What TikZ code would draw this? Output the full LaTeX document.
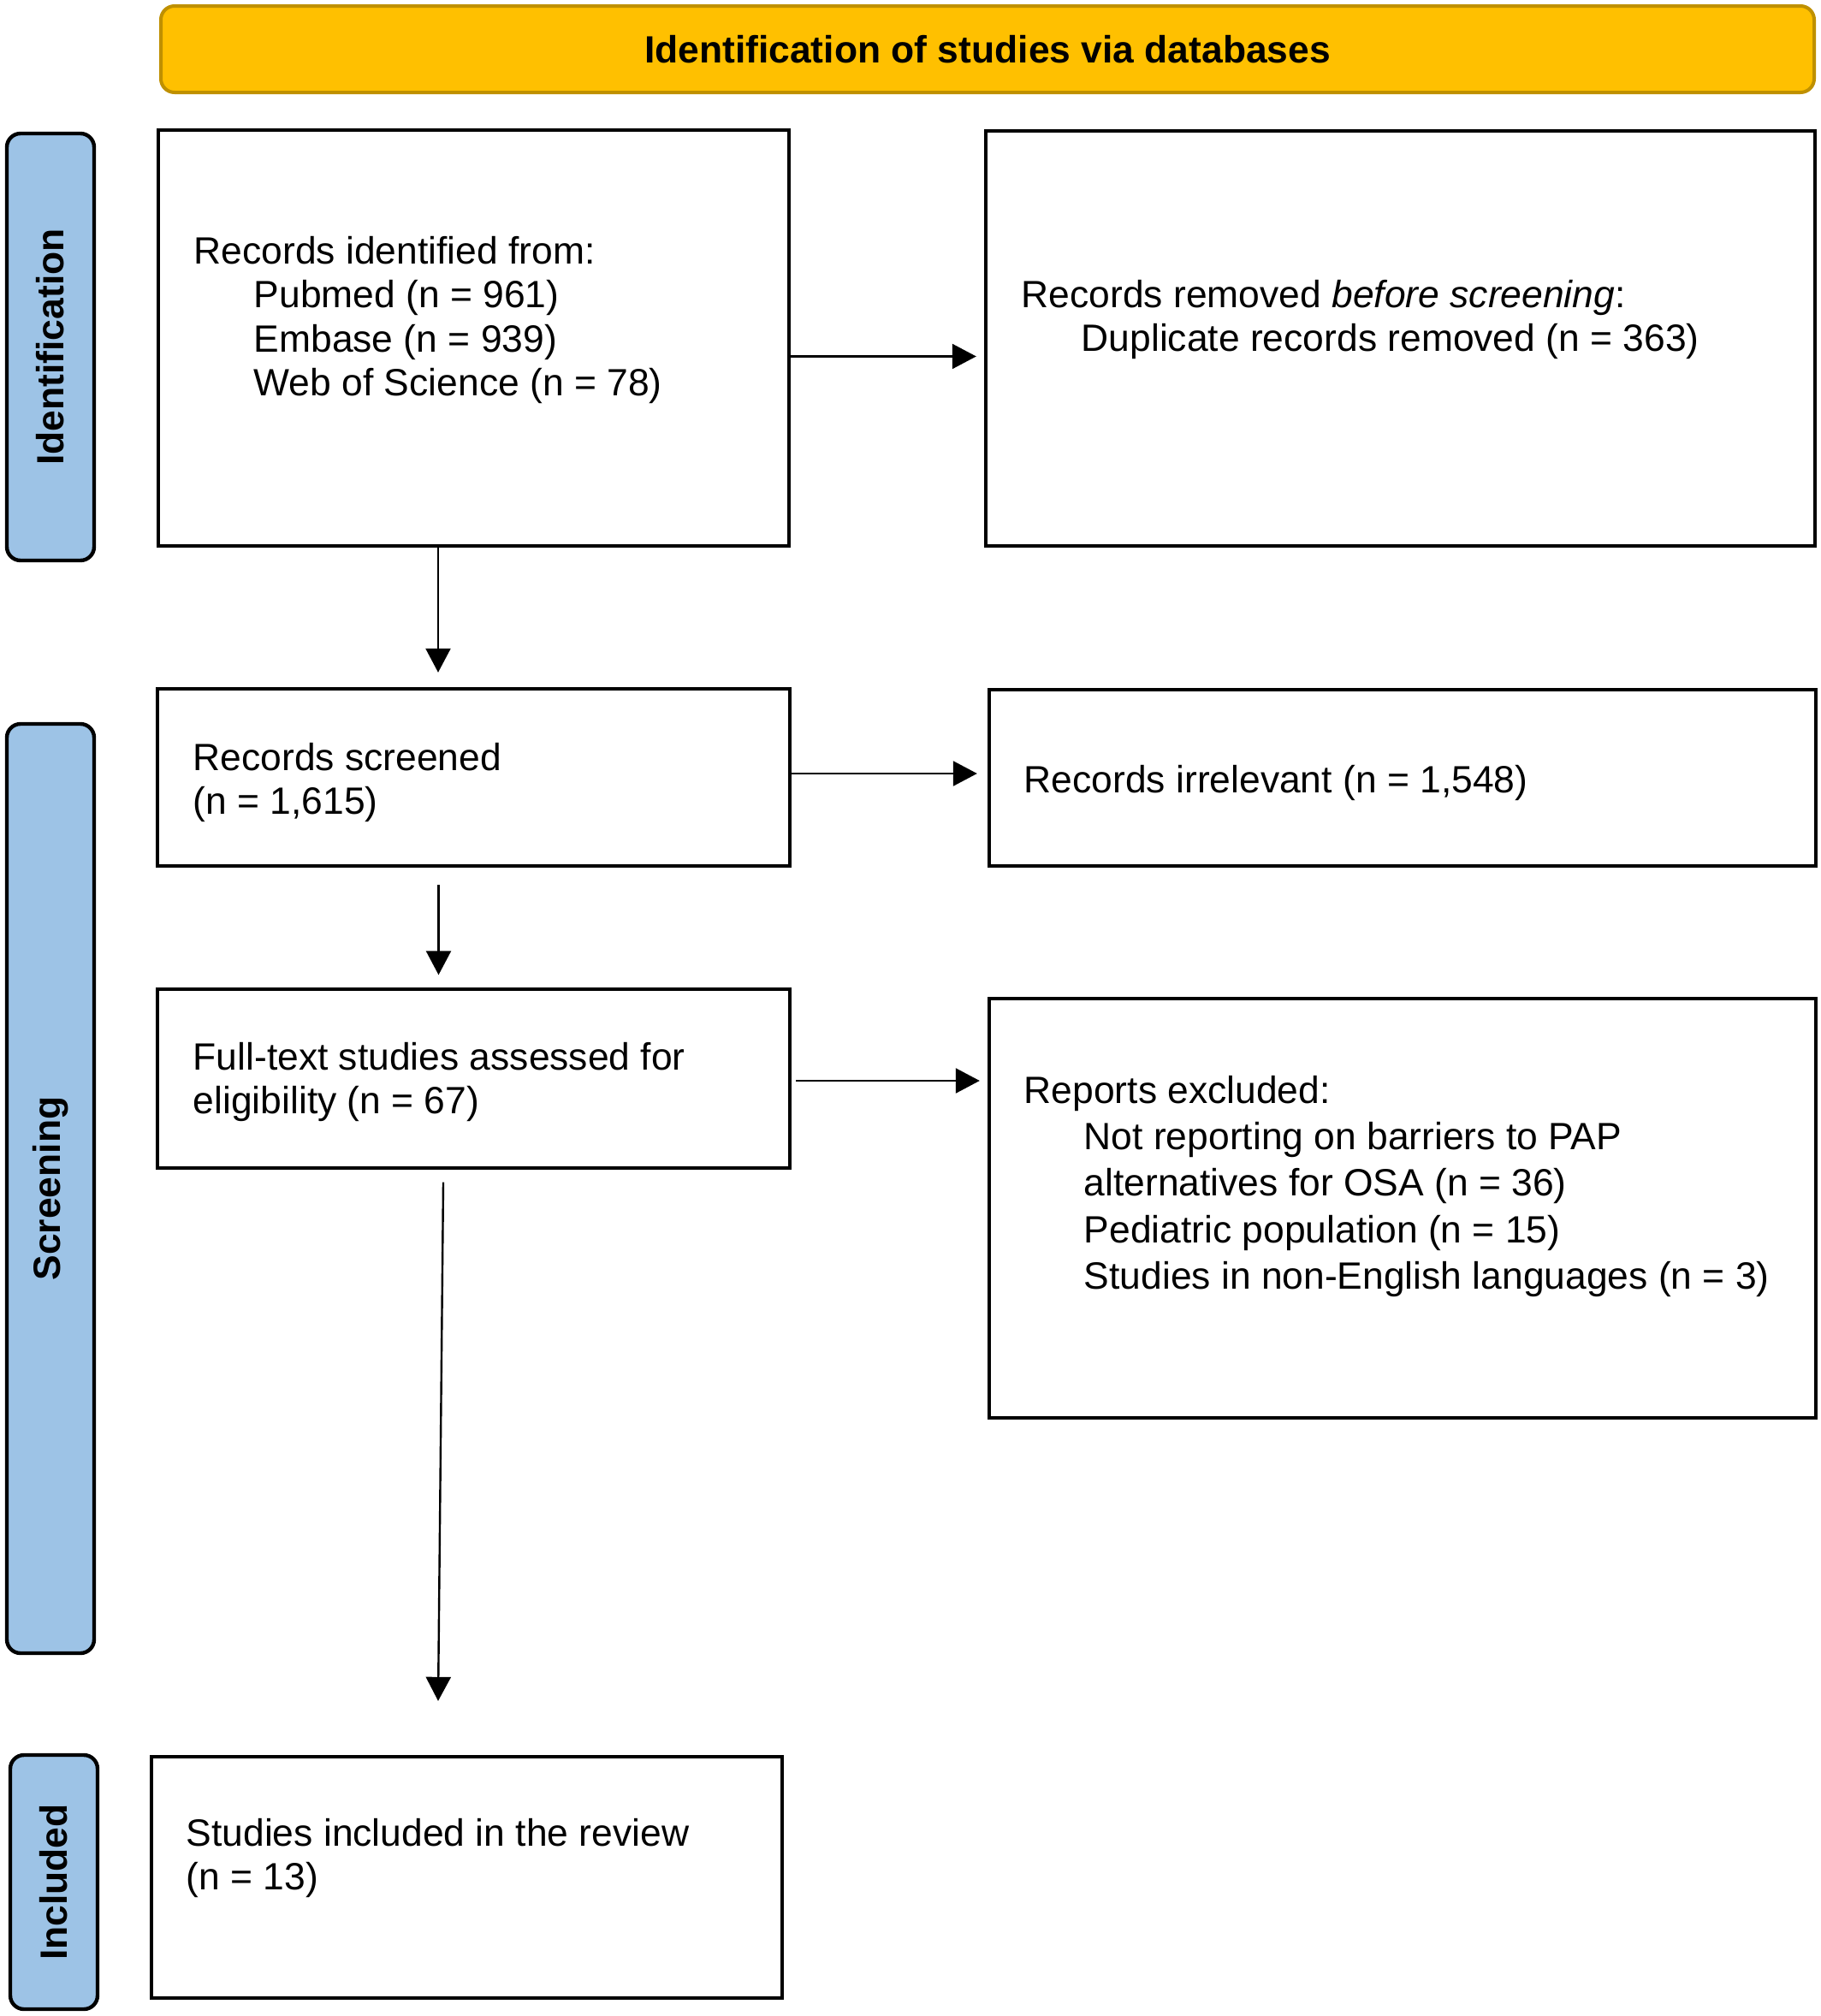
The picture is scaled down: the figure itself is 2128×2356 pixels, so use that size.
\documentclass[tikz,border=0pt]{standalone}
\usepackage{fontspec}
\setmainfont{Liberation Sans}
\usetikzlibrary{arrows.meta,calc}
\definecolor{bannerfill}{HTML}{FFC000}
\definecolor{bannerline}{HTML}{BF9000}
\definecolor{phasefill}{HTML}{9DC3E6}
\newcommand\ind{\hspace*{17.5pt}}
\begin{document}
\begin{tikzpicture}[x=0.25pt,y=-0.25pt,
  box/.style={draw=black,line width=1.1pt,fill=white,inner sep=0pt},
  phase/.style={draw=black,line width=1.1pt,fill=phasefill,rounded corners=4pt,inner sep=0pt,
    rotate=90,font=\fontsize{11.1}{12.9}\selectfont\bfseries},
  banner/.style={draw=bannerline,line width=1pt,fill=bannerfill,rounded corners=4pt,inner sep=0pt,
    font=\fontsize{11.1}{12.9}\selectfont\bfseries},
  txt/.style={anchor=base west,inner sep=0pt,font=\fontsize{11.1}{12.9}\selectfont},
  arr/.style={line width=0.6pt,-{Triangle[length=7pt,width=7.25pt]}},
]
\useasboundingbox (0,0) rectangle (2128,2356);

% banner
\node[banner, minimum width=1932*0.25pt, minimum height=101*0.25pt] (title) at (1154,57.5)
  {Identification of studies via databases};

% phase labels
\node[phase, minimum width=499*0.25pt, minimum height=102*0.25pt] (lab1) at (59,405.5) {Identification};
\node[phase, minimum width=1086*0.25pt, minimum height=102*0.25pt] (lab2) at (59,1389) {Screening};
\node[phase, minimum width=297*0.25pt, minimum height=102*0.25pt] (lab3) at (63,2199.5) {Included};

% boxes
\node[box, minimum width=737*0.25pt, minimum height=486*0.25pt] (b1) at (553.5,395) {};
\node[box, minimum width=969*0.25pt, minimum height=485*0.25pt] (b2) at (1636.5,395.5) {};
\node[box, minimum width=739*0.25pt, minimum height=207*0.25pt] (b3) at (553.5,908.5) {};
\node[box, minimum width=966*0.25pt, minimum height=206*0.25pt] (b4) at (1639,909) {};
\node[box, minimum width=739*0.25pt, minimum height=209*0.25pt] (b5) at (553.5,1260.5) {};
\node[box, minimum width=966*0.25pt, minimum height=490*0.25pt] (b6) at (1639,1412) {};
\node[box, minimum width=737*0.25pt, minimum height=282*0.25pt] (b7) at (545.5,2194) {};

% texts
\node[txt] (t1) at (226,308) {\begin{tabular}[t]{@{}l@{}}
  Records identified from:\\
  \ind Pubmed (n = 961)\\
  \ind Embase (n = 939)\\
  \ind Web of Science (n = 78)\end{tabular}};
\node[txt] (t2) at (1193,359) {\begin{tabular}[t]{@{}l@{}}
  Records removed \textit{before screening}:\\
  \ind Duplicate records removed (n = 363)\end{tabular}};
\node[txt] (t3) at (225,900) {\begin{tabular}[t]{@{}l@{}}
  Records screened\\
  (n = 1,615)\end{tabular}};
\node[txt] (t4) at (1196,926) {Records irrelevant (n = 1,548)};
\node[txt] (t5) at (225,1250) {\begin{tabular}[t]{@{}l@{}}
  Full-text studies assessed for\\
  eligibility (n = 67)\end{tabular}};
\node[txt] (t6) at (1196,1289) {\renewcommand\arraystretch{1.055}\begin{tabular}[t]{@{}l@{}}
  Reports excluded:\\
  \ind Not reporting on barriers to PAP\\
  \ind alternatives for OSA (n = 36)\\
  \ind Pediatric population (n = 15)\\
  \ind Studies in non-English languages (n = 3)\end{tabular}};
\node[txt] (t7) at (217,2157) {\begin{tabular}[t]{@{}l@{}}
  Studies included in the review\\
  (n = 13)\end{tabular}};

% arrows
\draw[arr] ($(b1.east)+(0,21.5)$) -- ($(b2.west)+(-9,21)$);
\draw[arr] ($(b1.south)+(-41.5,0)$) -- ($(b3.north)+(-41.5,-17)$);
\draw[arr] ($(b3.east)+(0,-4.5)$) -- ($(b4.west)+(-12,-5)$);
\draw[arr] ($(b3.south)+(-41,20)$) -- ($(b5.north)+(-41,-14.5)$);
\draw[arr] ($(b5.east)+(5,2.5)$) -- ($(b6.west)+(-9,-149)$);
\draw[arr] ($(b5.south)+(-35.5,14.5)$) -- ($(b7.north)+(-33.5,-63)$);
\end{tikzpicture}
\end{document}
